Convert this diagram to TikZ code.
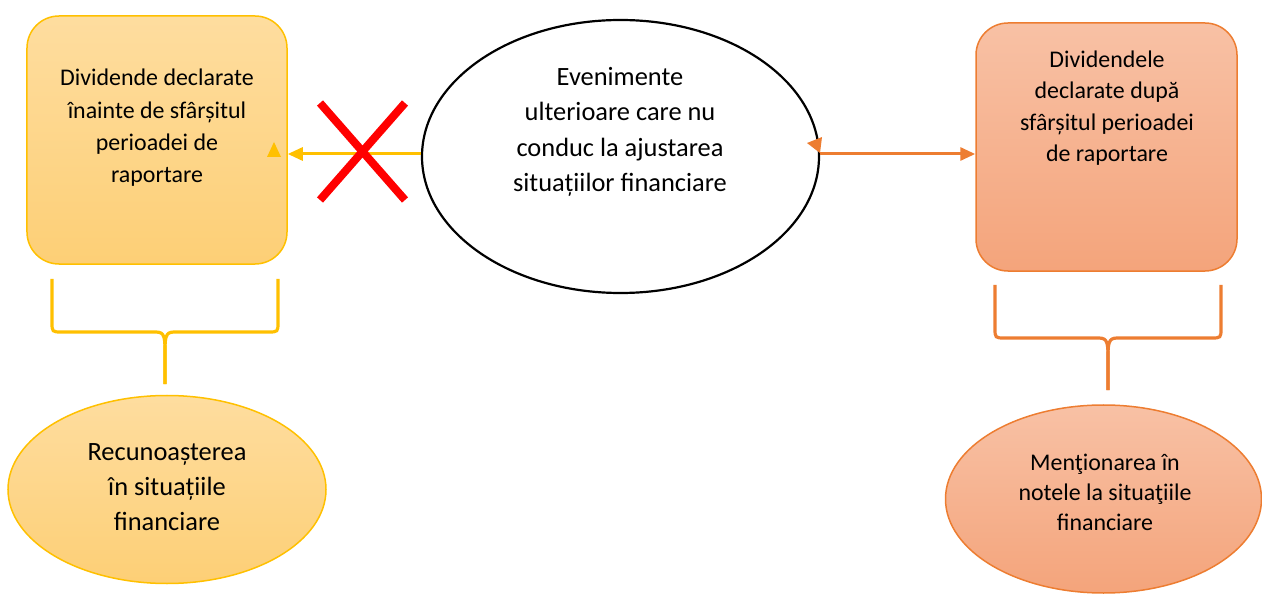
\documentclass[tikz,border=0pt]{standalone}
\usepackage{fontspec}
\setmainfont{Carlito}
\usetikzlibrary{arrows.meta,shapes.geometric}
\definecolor{gold}{HTML}{FFC000}
\definecolor{goldtop}{HTML}{FEDD9F}
\definecolor{goldbot}{HTML}{FDCF76}
\definecolor{orng}{HTML}{ED7D31}
\definecolor{orngtop}{HTML}{F8C1A5}
\definecolor{orngbot}{HTML}{F4A47B}
\tikzset{
  goldbox/.style={draw=gold, line width=1.5bp, rounded corners=32bp, top color=goldtop, bottom color=goldbot, minimum width=260bp, minimum height=248bp},
  orngbox/.style={draw=orng, line width=1.5bp, rounded corners=32bp, top color=orngtop, bottom color=orngbot, minimum width=261bp, minimum height=248bp},
  goldell/.style={ellipse, draw=gold, line width=1.5bp, top color=goldtop, bottom color=goldbot, minimum width=318bp, minimum height=188bp},
  orngell/.style={ellipse, draw=orng, line width=1.5bp, top color=orngtop, bottom color=orngbot, minimum width=316bp, minimum height=188bp},
  txt/.style={align=center, inner sep=0pt, font=\fontsize{24}{32.5}\selectfont},
  brace/.style={line width=3.2bp, line cap=butt, line join=round},
}
% half of a curly brace: side line at x=#1, tip at x=#2, top y=#3, bar y=#4, tip end y=#5
\newcommand{\halfbrace}[6][]{%
  \draw[brace,#1] (#2,#4) -- (#2,#5-10) .. controls (#2,#5) .. ({#2+(#3-#2)/abs(#3-#2)*10},#5)
    -- ({#3-(#3-#2)/abs(#3-#2)*9},#5) .. controls (#3,#5) and (#3,#5+6) .. (#3,#5+22) -- (#3,#6);}
\begin{document}
\begin{tikzpicture}[x=1bp, y=-1bp]
\useasboundingbox (0,0) rectangle (1262,594);

% boxes
\node[goldbox] (decl) at (157,140) {};
\node[txt] (declt) at (157,128) {Dividende declarate\\înainte de sfârșitul\\perioadei de\\raportare};
\node[orngbox] (after) at (1106.5,147) {};
\node[txt, font=\fontsize{24}{31.5}\selectfont] (aftert) at (1107,108) {Dividendele\\declarate după\\sfârșitul perioadei\\de raportare};

% central ellipse
\node[ellipse, draw=black, line width=2.2bp, fill=white, minimum width=397bp, minimum height=273bp] (ev) at (620.5,156.5) {};
\node[txt, font=\fontsize{26.5}{35.5}\selectfont] (evt) at (620,132) {Evenimente\\ulterioare care nu\\conduc la ajustarea\\situațiilor financiare};

% bottom ellipses
\node[goldell] (rec) at (167,489.5) {};
\node[txt, font=\fontsize{26.5}{35}\selectfont] (rect) at (167,487) {Recunoașterea\\în situațiile\\financiare};
\node[orngell] (men) at (1103.5,499) {};
\node[txt, font=\fontsize{24}{30}\selectfont] (ment) at (1105,492) {Menţionarea în\\notele la situaţiile\\financiare};

% arrows
\draw[gold, line width=3bp, -{Triangle[length=15bp,width=13bp]}] (ev.west |- 0,154) -- (decl.east |- 0,154);
\draw[orng, line width=3bp, -{Triangle[length=15bp,width=13bp]}] (ev.east |- 0,154) -- (after.west |- 0,154);
\fill[gold] (267,157) -- (281,157) -- (274,142) -- cycle;
\fill[orng] (807,143) -- (822,137) -- (820,153) -- cycle;

% red cross
\draw[red, line width=8bp] (320,103) -- (405,200);
\draw[red, line width=8bp] (405,103) -- (320,200);

% braces
\halfbrace[gold]{52}{165}{279}{332}{384}
\halfbrace[gold]{278}{165}{279}{332}{384}
\halfbrace[orng]{995}{1108}{285}{338}{390}
\halfbrace[orng]{1221}{1108}{285}{338}{390}
\end{tikzpicture}
\end{document}
